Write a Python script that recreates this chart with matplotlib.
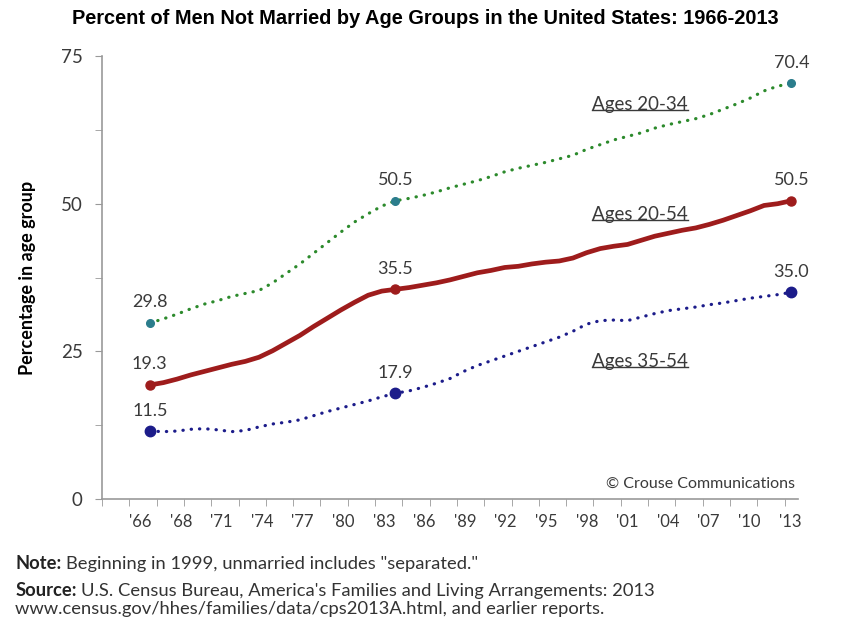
import matplotlib
matplotlib.use('Agg')
import matplotlib.pyplot as plt
import numpy as np
from matplotlib.lines import Line2D

# yearly values, 1966-2013
years = np.arange(1966, 2014)
ages_20_34 = [29.8, 30.5, 31.3, 32.2, 33.0, 33.6, 34.3, 34.8, 35.3, 36.6,
              38.2, 39.8, 41.6, 43.4, 45.2, 46.9, 48.3, 49.6, 50.5, 50.9,
              51.4, 52.0, 52.7, 53.3, 53.9, 54.6, 55.4, 56.0, 56.5, 57.0,
              57.6, 58.2, 59.2, 60.0, 60.8, 61.4, 62.0, 62.8, 63.4, 63.9,
              64.4, 65.1, 66.0, 66.9, 67.9, 69.1, 69.9, 70.4]
ages_20_54 = [19.3, 19.7, 20.3, 21.0, 21.6, 22.2, 22.8, 23.3, 24.0, 25.1,
              26.4, 27.7, 29.2, 30.6, 32.0, 33.3, 34.5, 35.2, 35.5, 35.8,
              36.2, 36.6, 37.1, 37.7, 38.3, 38.7, 39.2, 39.4, 39.8, 40.1,
              40.3, 40.8, 41.7, 42.4, 42.8, 43.1, 43.8, 44.5, 45.0, 45.5,
              45.9, 46.5, 47.2, 48.0, 48.8, 49.7, 50.0, 50.5]
ages_35_54 = [11.5, 11.4, 11.5, 11.8, 11.9, 11.7, 11.4, 11.6, 12.2, 12.7,
              13.0, 13.4, 14.1, 14.8, 15.4, 16.0, 16.6, 17.3, 17.9, 18.3,
              18.9, 19.6, 20.4, 21.6, 22.6, 23.4, 24.2, 25.0, 25.8, 26.6,
              27.4, 28.4, 29.6, 30.2, 30.3, 30.2, 30.8, 31.4, 31.9, 32.2,
              32.5, 32.9, 33.2, 33.6, 34.0, 34.3, 34.6, 35.0]
labelled_years = [1966, 1984, 2013]
tick_labels = ["'66", "'68", "'71", "'74", "'77", "'80", "'83", "'86", "'89",
               "'92", "'95", "'98", "'01", "'04", "'07", "'10", "'13"]

BODY = ['Lato', 'DejaVu Sans']
GREY_TXT = '#3a3a3a'

fig = plt.figure(figsize=(8.5, 6.3), dpi=100)
ax = fig.add_axes([0.12, 0.208, 0.819, 0.703])

series = [
    (ages_20_34, '#2c8a2c', '#2b7d8c', 'dotted', 5.5),
    (ages_20_54, '#9e1c1c', '#9e1c1c', 'solid', 6.5),
    (ages_35_54, '#1c1c8a', '#1c1c8a', 'dotted', 7.5),
]
for vals, col, mcol, style, msize in series:
    vals = np.array(vals)
    if style == 'dotted':
        ax.plot(years, vals, color=col, lw=2.3, linestyle=(0, (0.1, 2.5)),
                dash_capstyle='round', solid_capstyle='round')
    else:
        ax.plot(years, vals, color=col, lw=3.4, solid_capstyle='round')
    idx = [list(years).index(y) for y in labelled_years]
    ax.plot(years[idx], vals[idx], 'o', color=mcol, ms=msize, lw=0)
    for i in idx:
        ax.annotate(f'{vals[i]:.1f}', (years[i], vals[i]), xytext=(0, 9),
                    textcoords='offset points', ha='center', va='bottom',
                    fontsize=13, color=GREY_TXT, family=BODY)

ax.set_xlim(1962.5, 2013.5)
ax.set_ylim(0, 75)

# tick marks every two years, labels spread evenly as in the original
ax.set_xticks(np.arange(1962.5, 2013.6, 2), minor=True)
ax.set_xticks(np.linspace(1965.3, 2012.9, len(tick_labels)))
ax.set_xticklabels(tick_labels)
ax.tick_params(axis='x', which='major', length=0, pad=11, labelsize=12,
               labelcolor=GREY_TXT)
ax.tick_params(axis='x', which='minor', length=5, color='#999999', direction='out')
ax.set_yticks([0, 25, 50, 75])
ax.set_yticks(np.arange(0, 76, 12.5), minor=True)
ax.tick_params(axis='y', which='both', length=5, color='#999999', direction='out',
               labelsize=13.5, labelcolor=GREY_TXT, pad=9)
for lab in ax.get_xticklabels() + ax.get_yticklabels():
    lab.set_family(BODY)

for side in ['top', 'right']:
    ax.spines[side].set_visible(False)
for side in ['left', 'bottom']:
    ax.spines[side].set_color('#999999')
    ax.spines[side].set_linewidth(1.2)

ax.set_ylabel('Percentage in age group', fontsize=13, fontweight='bold',
              family=BODY, labelpad=18)

fig.text(0.5, 0.970, 'Percent of Men Not Married by Age Groups in the United States: 1966-2013',
         ha='center', va='center', fontsize=14.4, fontweight='bold',
         family=['Liberation Sans', 'DejaVu Sans'])

series_names = [('Ages 20-34', 66.8), ('Ages 20-54', 48.1), ('Ages 35-54', 23.2)]
name_texts = []
for name, yv in series_names:
    t = ax.text(2001.9, yv, name, ha='center', va='center', fontsize=13.5,
                color=GREY_TXT, family=BODY)
    name_texts.append(t)

ax.text(2013.3, 2.5, '\u00a9 Crouse Communications', ha='right', va='center',
        fontsize=11.5, color=GREY_TXT, family=BODY)

fig.canvas.draw()
renderer = fig.canvas.get_renderer()
inv = fig.transFigure.inverted()
for t in name_texts:
    bb = t.get_window_extent(renderer)
    (x0, y0), (x1, _) = inv.transform([(bb.x0, bb.y0 + 3), (bb.x1, bb.y0)])
    fig.add_artist(Line2D([x0, x1], [y0, y0], color=GREY_TXT, lw=1.0))


def bold_lead(x, y, lead, rest, size):
    t1 = fig.text(x, y, lead, fontsize=size, fontweight='bold', family=BODY,
                  color='#222222', va='center', ha='left')
    fig.canvas.draw()
    bb = t1.get_window_extent(renderer)
    x_end = inv.transform((bb.x1, bb.y0))[0]
    fig.text(x_end + 0.005, y, rest, fontsize=size, family=BODY,
             color='#333333', va='center', ha='left')


bold_lead(0.018, 0.105, 'Note:', 'Beginning in 1999, unmarried includes "separated."', 13.2)
bold_lead(0.018, 0.062, 'Source:', "U.S. Census Bureau, America's Families and Living Arrangements: 2013", 13.2)
fig.text(0.018, 0.034, 'www.census.gov/hhes/families/data/cps2013A.html, and earlier reports.',
         fontsize=13.2, family=BODY, color='#333333', va='center', ha='left')

fig.savefig('out.png', dpi=100)
